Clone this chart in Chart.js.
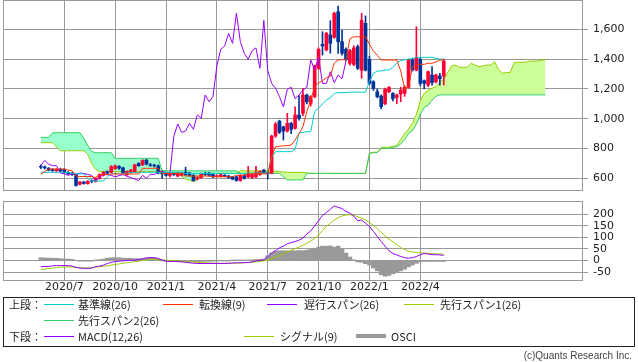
<!DOCTYPE html>
<html>
<head>
<meta charset="utf-8">
<script src="https://cdn.jsdelivr.net/npm/chart.js@4.4.1/dist/chart.umd.min.js"></script>
<style>
  body { margin:0; background:#fff; width:638px; height:362px; overflow:hidden; position:relative; font-family:"Noto Sans CJK JP", sans-serif; }
  canvas { position:absolute; left:0; }
  #top { top:0; }
  #bottom { top:195px; }
  .box { position:absolute; left:3px; top:297px; width:630px; height:48px; border:1px solid #222; }
  .t { position:absolute; font-size:11px; line-height:14px; color:#222; white-space:nowrap; }
  .sw { position:absolute; width:30px; height:1px; }
  .copy { position:absolute; right:6px; top:349px; font-size:10px; line-height:14px; color:#444; font-family:"Liberation Sans", sans-serif; }
</style>
</head>
<body>
<canvas id="top" width="638" height="192"></canvas>
<canvas id="bottom" width="638" height="105"></canvas>

<div class="box"></div>
<div class="t" style="left:9px;top:297px">上段：</div>
<div class="sw" style="left:44px;top:304px;background:#00cccc"></div>
<div class="t" style="left:78px;top:297px">基準線(26)</div>
<div class="sw" style="left:163px;top:304px;background:#ff3300"></div>
<div class="t" style="left:199px;top:297px">転換線(9)</div>
<div class="sw" style="left:267px;top:304px;background:#9900ff"></div>
<div class="t" style="left:304px;top:297px">遅行スパン(26)</div>
<div class="sw" style="left:404px;top:304px;background:#99cc00"></div>
<div class="t" style="left:440px;top:297px">先行スパン1(26)</div>
<div class="sw" style="left:44px;top:320px;background:#33cc66"></div>
<div class="t" style="left:78px;top:313px">先行スパン2(26)</div>
<div class="t" style="left:9px;top:329px">下段：</div>
<div class="sw" style="left:44px;top:336px;background:#9900ff"></div>
<div class="t" style="left:78px;top:329px">MACD(12,26)</div>
<div class="sw" style="left:244px;top:336px;background:#99cc00"></div>
<div class="t" style="left:280px;top:329px">シグナル(9)</div>
<div class="sw" style="left:356px;top:334px;height:4px;background:#999999"></div>
<div class="t" style="left:391px;top:329px">OSCI</div>
<div class="copy">(c)Quants Research Inc.</div>

<script>
// week index of each quarter label
const tickPos = [6, 19, 32, 45, 58, 71, 84, 97];
const tickLabels = ['2020/7', '2020/10', '2021/1', '2021/4', '2021/7', '2021/10', '2022/1', '2022/4'];
const priceTicks = [600, 800, 1000, 1200, 1400, 1600];
const macdTicks = [-50, 0, 50, 100, 150, 200];

// weekly candles
const opens = [680,676,668,660,650,660,660,640,633,625,
  560,575,565,585,580,600,620,645,640,665,
  680,670,625,640,645,700,690,722,690,688,
  683,645,630,618,630,615,620,640,635,620,
  595,605,635,635,630,612,612,620,615,610,
  610,585,620,610,605,610,625,655,638,635,
  884,984,946,917,969,935,1025,1036,1159,1103,
  1148,1338,1499,1461,1562,1546,1718,1517,1466,1372,
  1365,1483,1325,1640,1398,1248,1181,1152,1099,1181,
  1170,1143,1166,1170,1211,1394,1327,1398,1255,1226,
  1293,1248,1286,1286];
const highs = [690,682,672,665,665,668,665,645,640,630,
  580,580,585,590,605,630,645,650,685,690,
  685,675,650,660,695,705,725,728,700,695,
  690,650,635,635,635,640,640,675,640,625,
  610,635,640,640,635,622,630,625,620,612,
  615,625,625,680,630,680,650,660,645,890,
  975,990,950,1036,975,1080,1154,1204,1165,1155,
  1360,1475,1584,1580,1658,1715,1756,1595,1475,1465,
  1490,1495,1707,1690,1420,1255,1200,1160,1205,1215,
  1175,1165,1211,1220,1400,1405,1617,1410,1260,1320,
  1350,1300,1305,1400];
const lows = [665,662,650,645,645,645,635,625,620,548,
  555,560,560,570,575,595,615,630,635,660,
  660,630,620,635,640,680,685,690,680,675,
  630,600,615,610,620,610,615,620,615,580,
  590,600,620,615,605,608,608,610,600,590,
  580,580,595,605,600,605,620,635,595,630,
  875,900,857,910,900,930,991,1020,1100,1085,
  1140,1330,1427,1455,1439,1540,1439,1427,1390,1360,
  1355,1330,1271,1320,1230,1190,1140,1065,1095,1175,
  1120,1100,1114,1150,1205,1320,1320,1220,1200,1215,
  1225,1240,1225,1226];
const closes = [675,670,655,652,660,650,640,632,625,552,
  575,565,580,580,600,625,640,635,678,683,
  668,638,645,655,690,685,720,695,685,684,
  635,630,620,630,625,635,633,625,620,585,
  605,630,625,620,610,618,625,614,605,595,
  585,620,600,628,625,640,645,640,634,883,
  964,909,917,969,929,1025,1003,1159,1114,1148,
  1354,1466,1488,1573,1506,1707,1517,1439,1398,1456,
  1475,1338,1660,1325,1237,1204,1148,1080,1197,1211,
  1134,1159,1192,1211,1394,1327,1412,1237,1237,1315,
  1242,1293,1268,1387];

const tenkan = [629,645,662,662,662,662,662,655,650,615,
  612,612,612,612,605,625,625,625,629,629,
  629,629,629,629,629,629,667,667,667,667,
  667,633,633,633,633,633,633,615,615,615,
  615,615,615,615,611,611,611,611,611,611,
  620,620,620,630,630,630,630,630,630,745,
  812,815,818,820,823,857,900,946,1047,1125,
  1215,1240,1255,1275,1285,1373,1394,1396,1396,1537,
  1550,1550,1550,1550,1500,1455,1426,1394,1394,1394,
  1394,1394,1320,1200,1215,1349,1365,1365,1365,1372,
  1372,1380,1394,1394];
const kijun = [640,640,640,640,640,640,640,640,632,630,
  630,630,600,582,582,582,582,610,633,633,
  633,633,633,640,640,640,640,640,640,640,
  640,640,640,640,640,640,640,632,632,632,
  632,632,632,632,632,632,632,632,632,632,
  632,632,632,635,635,635,635,635,635,740,
  779,779,779,779,779,795,903,908,913,913,
  1050,1070,1100,1125,1140,1170,1175,1175,1175,1178,
  1178,1178,1178,1178,1250,1304,1320,1320,1327,1327,
  1345,1375,1390,1395,1400,1405,1410,1412,1412,1412,
  1412,1405,1400,1400];
const chikouShift = 25;
const senkouA = [839,839,839,839,810,785,785,785,785,785,
  785,785,760,700,660,645,645,645,645,645,
  645,645,645,645,645,645,645,645,645,645,
  645,633,633,633,633,633,615,595,585,580,
  590,620,633,633,633,633,633,633,633,633,
  633,650,650,650,650,650,650,650,650,650,
  648,645,642,640,640,640,640,640,636,633,
  633,633,633,633,633,633,633,633,633,633,
  633,633,633,633,768,775,775,808,808,808,
  815,820,860,900,930,970,1030,1120,1170,1190,
  1205,1215,1245,1265,1310,1355,1360,1345,1345,1345,
  1372,1360,1349,1355,1360,1360,1382,1330,1305,1310,
  1310,1378,1378,1378,1380,1387,1387,1387,1394,1394];
const senkouB = [875,875,875,906,906,906,906,906,906,906,
  906,870,820,780,772,772,772,772,772,734,
  734,734,734,734,734,734,734,734,734,734,
  734,650,650,650,650,650,650,650,650,650,
  650,650,650,650,650,650,650,650,650,650,
  650,633,633,633,633,633,633,633,633,633,
  633,633,610,589,589,589,589,589,633,633,
  633,633,633,633,633,633,633,633,633,633,
  633,633,633,633,765,772,772,801,801,801,
  808,812,830,860,900,920,965,1030,1075,1090,
  1125,1150,1160,1160,1160,1160,1160,1160,1160,1160,
  1160,1160,1160,1160,1160,1160,1160,1160,1160,1160,
  1160,1160,1160,1160,1160,1160,1160,1160,1160,1160];

const macd = [-27,-26,-26,-23,-22,-22,-22,-22,-24,-30,
  -33,-34,-34,-33,-27,-24,-20,-13,-8,-5,
  -3,-2,0,1,1,3,7,11,12,12,
  9,2,-3,-4,-4,-5,-6,-8,-10,-12,
  -13,-13,-13,-13,-13,-13,-13,-13,-12,-11,
  -10,-10,-9,-9,-6,-2,0,3,17,32,
  43,55,62,72,78,82,88,97,115,128,
  150,172,195,208,222,236,230,225,212,205,
  192,172,175,162,147,126,104,82,62,42,
  30,24,17,12,10,12,17,25,30,28,
  25,25,24,22];
const signal = [-39,-37,-35,-33,-31,-29,-28,-28,-28,-29,
  -31,-32,-32,-31,-29,-27,-25,-23,-20,-17,
  -15,-12,-10,-8,-5,-3,0,2,4,5,
  5,3,1,0,-1,-2,-4,-5,-6,-7,
  -8,-9,-10,-11,-11,-12,-12,-12,-12,-12,
  -11,-11,-10,-9,-8,-6,-4,-2,2,8,
  15,22,30,37,44,51,58,66,75,84,
  95,110,130,148,162,175,185,193,197,198,
  195,190,183,176,164,152,138,122,106,92,
  80,68,56,47,40,37,35,33,32,31,
  30,29,28,28];
const osci = [12,11,10,10,9,8,6,6,5,0,
  -3,-3,-3,-3,2,4,6,10,12,12,
  12,10,10,9,8,8,9,11,13,11,
  6,-1,-3,-4,-4,-4,-4,-4,-5,-5,
  -5,-4,-4,-4,-3,-3,-2,-2,-1,1,
  2,2,2,2,3,4,5,6,20,33,
  40,42,42,42,42,42,43,42,45,48,
  52,58,62,62,63,58,62,48,32,15,
  3,-6,-8,-14,-20,-33,-45,-62,-68,-65,
  -58,-52,-45,-38,-28,-20,-12,-6,-4,-4,
  -4,-4,-4,-4];

Chart.defaults.font.family = '"DejaVu Sans", sans-serif';
Chart.defaults.font.size = 11;
Chart.defaults.color = '#222';

const GRID = '#999999';
const RED = '#ff0033';
const BLUE = '#003399';
const candleColors = closes.map((c, i) => c >= opens[i] ? RED : BLUE);
const pts = arr => arr.map((v, i) => ({x: i, y: v}));

// gray frame around the plot area
const frame = {
  id: 'frame',
  afterDatasetsDraw(chart) {
    const {ctx, chartArea: a} = chart;
    ctx.save();
    ctx.strokeStyle = GRID;
    ctx.lineWidth = 1;
    ctx.strokeRect(Math.round(a.left) + 0.5, Math.round(a.top) - 0.5,
      Math.round(a.right - a.left) - 1, Math.round(a.bottom - a.top) + 1);
    ctx.restore();
  }
};

const xMin = -9.67, xMax = 138.59;

function xScale(showLabels) {
  return {
    type: 'linear', min: xMin, max: xMax, offset: false,
    afterBuildTicks: s => { s.ticks = tickPos.map(v => ({value: v})); },
    afterFit: s => { s.height = showLabels ? 20 : 0; s.paddingLeft = 0; s.paddingRight = 0; },
    grid: {color: GRID, drawTicks: false, offset: false},
    border: {display: false},
    ticks: {
      display: showLabels, autoSkip: false, maxRotation: 0, padding: 1,
      callback: v => { const k = tickPos.indexOf(v); return k >= 0 ? tickLabels[k] : ''; }
    }
  };
}

function yScale(min, max, ticks, fmt) {
  return {
    type: 'linear', position: 'right', min, max,
    afterBuildTicks: s => { s.ticks = ticks.map(v => ({value: v})); },
    afterFit: s => { s.width = 55; s.paddingTop = 0; s.paddingBottom = 0; },
    grid: {color: GRID, tickLength: 5, drawTicks: true},
    border: {display: false},
    ticks: {padding: 5, autoSkip: false, callback: fmt}
  };
}

const line = (label, data, color, order) => ({
  type: 'line', label, data, borderColor: color, borderWidth: 1,
  pointRadius: 0, fill: false, order
});

new Chart(document.getElementById('top'), {
  type: 'bar',
  data: {
    datasets: [
      Object.assign(line('先行スパン1', pts(senkouA), '#99cc00', 10),
        {fill: {target: '+1', above: '#ccff99', below: '#99ffcc'}}),
      line('先行スパン2', pts(senkouB), '#33cc66', 9),
      {label: 'wick', data: lows.map((l, i) => ({x: i, y: [l, highs[i]]})),
        backgroundColor: candleColors, barThickness: 1, grouped: false, order: 6},
      {label: 'body', data: opens.map((o, i) => ({x: i, y: [o, closes[i]]})),
        backgroundColor: candleColors, barThickness: 3, grouped: false, order: 5},
      line('遅行スパン', closes.slice(chikouShift).map((c, i) => ({x: i, y: c})), '#9900ff', 3),
      line('基準線', pts(kijun), '#00cccc', 2),
      line('転換線', pts(tenkan), '#ff3300', 1)
    ]
  },
  options: {
    responsive: false, devicePixelRatio: 1, animation: false,
    layout: {padding: {left: 3, top: 1, right: 0, bottom: 2}, autoPadding: false},
    plugins: {legend: {display: false}, tooltip: {enabled: false}},
    scales: {
      x: xScale(false),
      y: yScale(521.5, 1790, priceTicks, v => v.toLocaleString('en-US'))
    }
  },
  plugins: [frame]
});

new Chart(document.getElementById('bottom'), {
  type: 'bar',
  data: {
    datasets: [
      {label: 'OSCI', data: pts(osci), backgroundColor: '#999999',
        barPercentage: 1, categoryPercentage: 1, grouped: false, order: 3},
      line('シグナル', pts(signal), '#99cc00', 2),
      line('MACD', pts(macd), '#9900ff', 1)
    ]
  },
  options: {
    responsive: false, devicePixelRatio: 1, animation: false,
    layout: {padding: {left: 3, top: 7, right: 0, bottom: 0}, autoPadding: false},
    plugins: {legend: {display: false}, tooltip: {enabled: false}},
    scales: {
      x: xScale(true),
      y: yScale(-84.5, 253.2, macdTicks, v => String(v))
    }
  },
  plugins: [frame]
});
</script>
</body>
</html>
